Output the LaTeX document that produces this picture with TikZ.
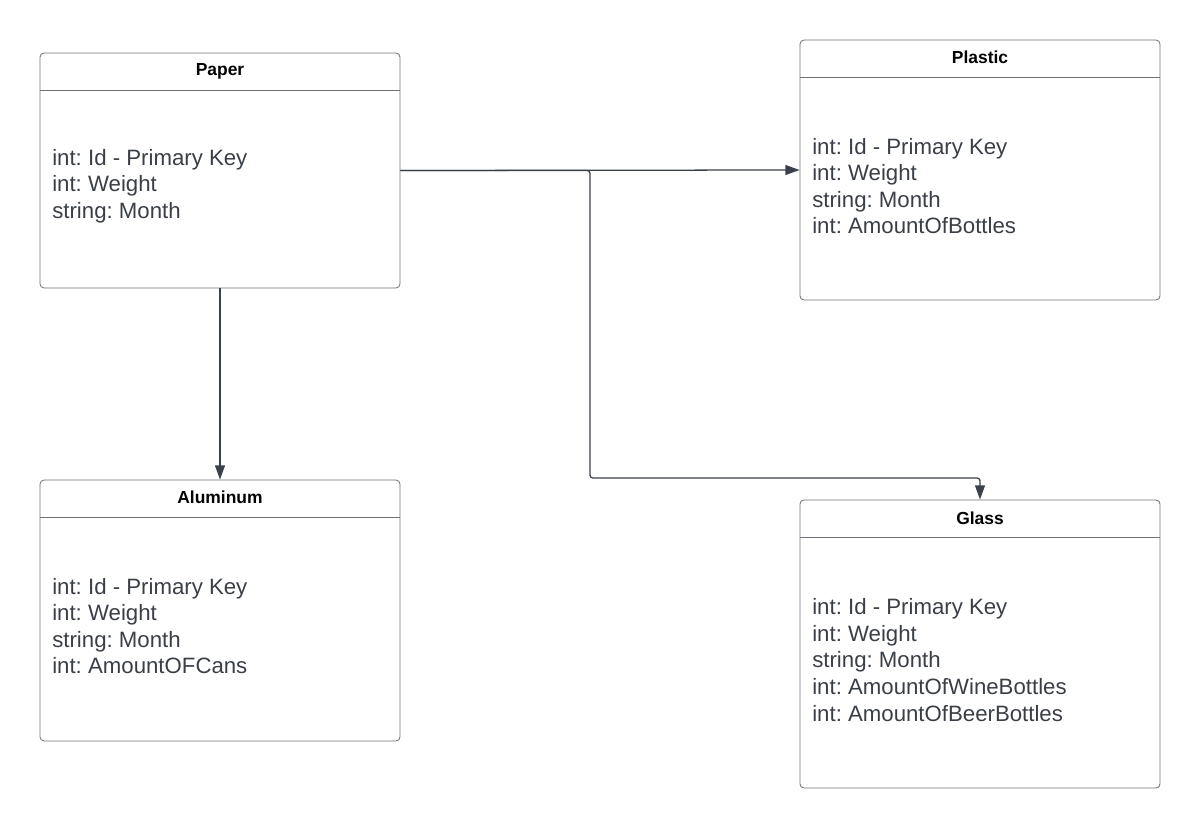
\documentclass[tikz,border=0pt]{standalone}
\usepackage{fontspec}
\setmainfont{Liberation Sans}
\usepackage{tikz}
\usetikzlibrary{arrows.meta}
\definecolor{boxgray}{HTML}{6E7278}
\definecolor{linkgray}{HTML}{3A414A}
\definecolor{textgray}{HTML}{3A3F47}
\frenchspacing

\begin{document}
\begin{tikzpicture}[x=0.025cm, y=-0.025cm]
\tikzset{table/.style = {shape=rectangle, draw=boxgray, line width=0.6pt, rounded corners=3pt, minimum width=9cm, inner sep=0pt}}
    \tikzset{title/.style = {font=\fontsize{12.4}{14}\selectfont\bfseries, text=black}}
    \tikzset{attr/.style = {font=\fontsize{15.8}{18.9}\selectfont, text=textgray, align=left, anchor=west, inner sep=0pt}}
    \tikzset{header/.style = {draw=boxgray, line width=0.6pt}}
    \tikzset{link/.style = {draw=linkgray, line width=0.9pt, rounded corners=2pt, -{Triangle[length=10pt, width=7pt]}}}
\useasboundingbox (0,0) rectangle (1200,828);

% Define the four tables
\node[table, minimum height=5.875cm] (paper) at (220,170.5){};
\node[title] (paper title) at (220,71){Paper};
\draw[header] (40,90.5) -- (400,90.5);
\node[attr] (paper attr) at (52,186){int: Id - Primary Key\\int: Weight\\string: Month};

\node[table, minimum height=6.5cm] (plastic) at (980,170){};
\node[title] (plastic title) at (980,57){Plastic};
\draw[header] (800,77.5) -- (1160,77.5);
\node[attr] (plastic attr) at (812,186){int: Id - Primary Key\\int: Weight\\string: Month\\int: AmountOfBottles};

\node[table, minimum height=6.525cm] (aluminum) at (220,610.5){};
\node[title] (aluminum title) at (220,497){Aluminum};
\draw[header] (40,517.5) -- (400,517.5);
\node[attr] (aluminum attr) at (52,626){int: Id - Primary Key\\int: Weight\\string: Month\\int: AmountOFCans};

\node[table, minimum height=7.2cm] (glass) at (980,644){};
\node[title] (glass title) at (980,518){Glass};
\draw[header] (800,537.5) -- (1160,537.5);
\node[attr] (glass attr) at (812,660){int: Id - Primary Key\\int: Weight\\string: Month\\int: AmountOfWineBottles\\int: AmountOfBeerBottles};

% Draw the links from paper
\draw[link] (paper.east) -- (plastic.west);
\draw[link] (paper.south) -- (aluminum.north);
\draw[link] (paper.east) -- (590,170.5) -- (590,478) -- (980,478) -- (glass.north);
\end{tikzpicture}
\end{document}
